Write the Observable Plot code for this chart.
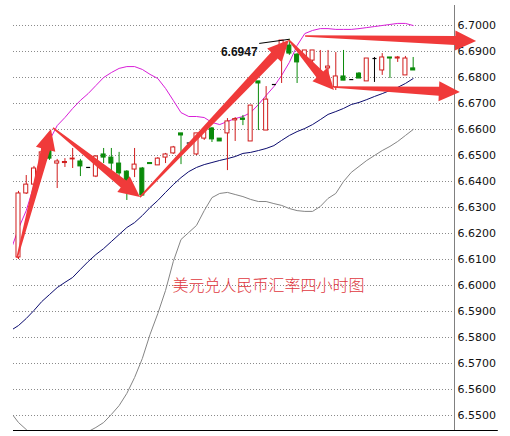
<!DOCTYPE html>
<html>
<head>
<meta charset="utf-8">
<script src="https://cdn.jsdelivr.net/npm/d3@7"></script>
<script src="https://cdn.jsdelivr.net/npm/@observablehq/plot@0.6"></script>
<style>
  body { margin: 0; background: #fff; }
  #chart svg { display: block; }
</style>
</head>
<body>
<div id="chart"></div>
<script>
// ---- Data: USD/CNY 4-hour candles (index 0..51) ----
const open  = [6.6108,6.6354,6.6388,6.6450,6.6519,6.6469,6.6471,6.6485,6.6477,6.6454,
               6.6419,6.6504,6.6492,6.6469,6.6438,6.6446,6.6450,6.6471,6.6462,6.6492,
               6.6508,6.6585,6.6548,6.6504,6.6565,6.6604,6.6565,6.6585,6.6635,6.6642,
               6.6554,6.6785,6.6596,6.6773,6.6923,6.6923,6.6888,6.6877,6.6865,6.6792,
               6.6835,6.6762,6.6804,6.6792,6.6815,6.6785,6.6873,6.6827,6.6877,6.6873,
               6.6808,6.6835];
const high  = [6.6362,6.6423,6.6458,6.6527,6.6527,6.6485,6.6488,6.6527,6.6485,6.6454,
               6.6500,6.6527,6.6527,6.6512,6.6442,6.6527,6.6454,6.6471,6.6492,6.6508,
               6.6535,6.6585,6.6548,6.6585,6.6604,6.6608,6.6565,6.6642,6.6646,6.6654,
               6.6692,6.6785,6.6765,6.6773,6.6942,6.6947,6.6892,6.6904,6.6904,6.6904,
               6.6904,6.6896,6.6904,6.6792,6.6819,6.6873,6.6877,6.6892,6.6877,6.6881,
               6.6881,6.6877];
const low   = [6.6100,6.6350,6.6385,6.6442,6.6481,6.6373,6.6454,6.6450,6.6419,6.6454,
               6.6415,6.6469,6.6415,6.6412,6.6327,6.6415,6.6346,6.6467,6.6462,6.6469,
               6.6504,6.6465,6.6548,6.6500,6.6558,6.6550,6.6554,6.6442,6.6554,6.6615,
               6.6554,6.6596,6.6596,6.6773,6.6777,6.6885,6.6777,6.6865,6.6842,6.6788,
               6.6800,6.6750,6.6788,6.6792,6.6796,6.6785,6.6781,6.6808,6.6796,6.6858,
               6.6808,6.6827];
const close = [6.6354,6.6388,6.6450,6.6512,6.6488,6.6477,6.6475,6.6488,6.6458,6.6454,
               6.6496,6.6492,6.6469,6.6431,6.6381,6.6465,6.6346,6.6467,6.6488,6.6504,
               6.6531,6.6577,6.6548,6.6585,6.6596,6.6562,6.6554,6.6631,6.6640,6.6637,
               6.6692,6.6777,6.6715,6.6773,6.6942,6.6892,6.6858,6.6904,6.6904,6.6808,
               6.6842,6.6804,6.6788,6.6792,6.6796,6.6873,6.6873,6.6877,6.6873,6.6877,
               6.6873,6.6827];

// ---- Bollinger bands (index -1..51) ----
const bandIndex = d3.range(-1, 52);
const upperBand = [6.6135,6.6219,6.6288,6.6385,6.6469,6.6558,6.6615,6.6646,6.6681,6.6712,
                   6.6738,6.6769,6.6800,6.6819,6.6835,6.6842,6.6842,6.6831,6.6812,6.6796,
                   6.6758,6.6712,6.6665,6.6650,6.6650,6.6646,6.6627,6.6619,6.6631,6.6642,
                   6.6650,6.6665,6.6696,6.6731,6.6765,6.6808,6.6858,6.6923,6.6969,6.6981,
                   6.6988,6.6988,6.6985,6.6985,6.6985,6.6988,6.6992,6.6996,6.7000,6.7004,
                   6.7008,6.7008,6.7000];
const midBand   = [6.5827,6.5846,6.5873,6.5904,6.5938,6.5965,6.5992,6.6012,6.6031,6.6062,
                   6.6092,6.6119,6.6142,6.6169,6.6196,6.6223,6.6242,6.6269,6.6300,6.6327,
                   6.6358,6.6388,6.6415,6.6438,6.6454,6.6465,6.6473,6.6481,6.6488,6.6496,
                   6.6508,6.6512,6.6519,6.6527,6.6538,6.6558,6.6577,6.6592,6.6604,6.6619,
                   6.6638,6.6658,6.6669,6.6681,6.6696,6.6704,6.6715,6.6727,6.6738,6.6750,
                   6.6762,6.6777,6.6796];
const lowerBand = [6.5512,6.5473,6.5446,6.5419,6.5396,6.5381,6.5373,6.5377,6.5392,6.5415,
                   6.5438,6.5454,6.5473,6.5504,6.5538,6.5585,6.5646,6.5719,6.5812,6.5892,
                   6.5981,6.6092,6.6177,6.6204,6.6231,6.6288,6.6338,6.6354,6.6358,6.6350,
                   6.6342,6.6331,6.6323,6.6323,6.6315,6.6308,6.6296,6.6288,6.6285,6.6285,
                   6.6304,6.6335,6.6354,6.6400,6.6435,6.6458,6.6481,6.6500,6.6519,6.6535,
                   6.6554,6.6577,6.6600];

// ---- Axis ticks ----
const yTicks = [6.55,6.56,6.57,6.58,6.59,6.60,6.61,6.62,6.63,6.64,6.65,6.66,6.67,6.68,6.69,6.70];

// ---- Hand-drawn arrows (index, price) ----
const arrowTailX = [-0.13, 4.52, 15.76, 35.0, 37.1, 40.83];
const arrowTailY = [6.6104, 6.6604, 6.6338, 6.6942, 6.6958, 6.6762];
const arrowTipX  = [4.26, 15.76, 35.0, 40.83, 59.2, 57.1];
const arrowTipY  = [6.6600, 6.6338, 6.6942, 6.6750, 6.6938, 6.6742];

// ---- Texts ----
const titleText = "美元兑人民币汇率四小时图";
const peakLabelX = 30.9, peakLabelY = 6.6896;
const leaderX1 = 31.1, leaderY1 = 6.6931;
const titleX = 32.3, titleY = 6.6000;

// ---- Scales ----
const xMin = -0.646, xMax = 56.34, xAxisEnd = 62.0;
const yMin = 6.5442308, yMax = 6.7076923;

const RED = "#d01c1c", GREEN = "#0a8a0a", BLACK = "#000";
const ARROW = "#f03a3a";
const HALF = 0.26;

const candles = open.map((o, i) => ({
  i, o, h: high[i], l: low[i], c: close[i],
  color: close[i] > o ? RED : close[i] < o ? GREEN : BLACK,
  up: close[i] > o
}));
const bodies = candles.filter(d => d.o !== d.c);
const dojis = candles.filter(d => d.o === d.c);
const bands = bandIndex.map((x, k) => ({x, upper: upperBand[k], mid: midBand[k], lower: lowerBand[k]}));

const peakIdx = d3.maxIndex(high);
const peakLabel = high[peakIdx].toFixed(4);

const HEAD_LEN = 21, HEAD_W = 20, NECK_W = 9, TAIL_W = 1.5;
const taperArrows = (index, scales) => {
  const sx = scales.x, sy = scales.y;
  const g = d3.create("svg:g").attr("fill", ARROW);
  arrowTailX.forEach((_, k) => {
    const tx = sx(arrowTailX[k]), ty = sy(arrowTailY[k]);
    const px = sx(arrowTipX[k]), py = sy(arrowTipY[k]);
    const dx = px - tx, dy = py - ty, len = Math.hypot(dx, dy);
    const ux = dx / len, uy = dy / len, nx = -uy, ny = ux;
    const bx = px - ux * HEAD_LEN, by = py - uy * HEAD_LEN;
    const pts = [
      [tx + nx * TAIL_W / 2, ty + ny * TAIL_W / 2],
      [bx + nx * NECK_W / 2, by + ny * NECK_W / 2],
      [bx + nx * HEAD_W / 2, by + ny * HEAD_W / 2],
      [px, py],
      [bx - nx * HEAD_W / 2, by - ny * HEAD_W / 2],
      [bx - nx * NECK_W / 2, by - ny * NECK_W / 2],
      [tx - nx * TAIL_W / 2, ty - ny * TAIL_W / 2]
    ];
    g.append("path").attr("d", "M" + pts.map(p => p[0].toFixed(2) + "," + p[1].toFixed(2)).join("L") + "Z");
  });
  return g.node();
};

const chart = Plot.plot({
  width: 510,
  height: 436,
  marginLeft: 13,
  marginRight: 56,
  marginTop: 5,
  marginBottom: 6,
  style: {fontFamily: "DejaVu Sans, sans-serif", fontSize: "11px", color: "#111", background: "#fff"},
  x: {domain: [xMin, xMax], axis: null},
  y: {
    domain: [yMin, yMax], axis: "right", ticks: yTicks,
    tickFormat: d => d.toFixed(4), tickSize: 0, tickPadding: 3, label: null
  },
  marks: [
    Plot.ruleY(yTicks, {stroke: "#8a8a8a", strokeDasharray: "1,2"}),
    Plot.line(bands, {x: "x", y: "lower", stroke: "#858585", strokeWidth: 1, clip: true}),
    Plot.line(bands, {x: "x", y: "mid", stroke: "#0b0b6e", strokeWidth: 1, clip: true}),
    Plot.line(bands, {x: "x", y: "upper", stroke: "#d81ed8", strokeWidth: 1, clip: true}),
    Plot.ruleX(candles, {x: "i", y1: "l", y2: "h", stroke: "color", strokeWidth: 1}),
    Plot.rect(bodies, {
      x1: d => d.i - HALF, x2: d => d.i + HALF, y1: "o", y2: "c",
      fill: d => d.up ? "#fff" : d.color, stroke: "color", strokeWidth: 1
    }),
    Plot.link(dojis, {x1: d => d.i - HALF, x2: d => d.i + HALF, y1: "o", y2: "o", stroke: "color", strokeWidth: 1.2}),
    Plot.link([peakIdx], {x1: () => leaderX1, y1: () => leaderY1, x2: d => d, y2: d => high[d], stroke: "#000", strokeWidth: 1}),
    Plot.text([peakLabel], {
      x: () => peakLabelX, y: () => peakLabelY, text: d => d, textAnchor: "end",
      fill: "#111", fontSize: 12, fontWeight: "bold", fontFamily: "Liberation Sans, sans-serif"
    }),
    Plot.text([titleText], {
      x: () => titleX, y: () => titleY, text: d => d, fill: "#e0383e",
      fontSize: 16, fontWeight: 300, fontFamily: "Noto Sans CJK SC, sans-serif"
    }),
    Plot.ruleX([xMax], {stroke: "#808080", strokeWidth: 1}),
    Plot.ruleY([yMin], {x1: xMin, x2: xAxisEnd, stroke: "#000", strokeWidth: 1.2}),
    taperArrows
  ]
});
document.getElementById("chart").appendChild(chart);
</script>
</body>
</html>
